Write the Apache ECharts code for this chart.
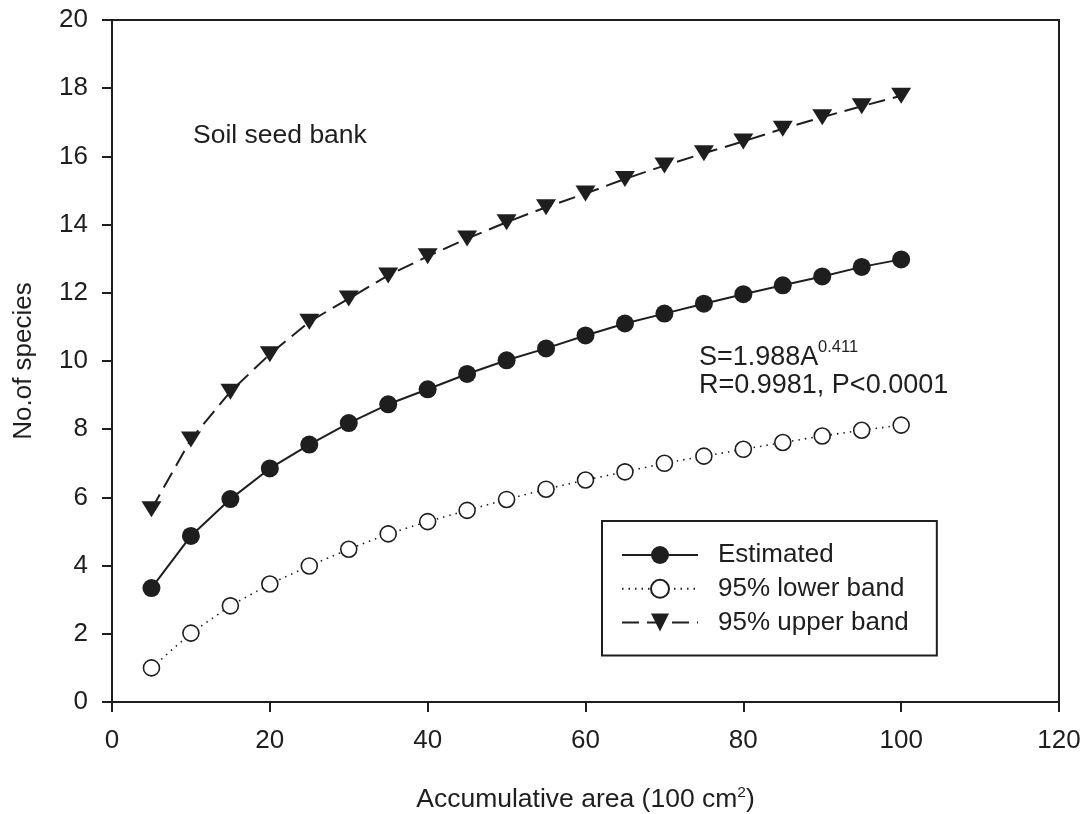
<!DOCTYPE html>
<html>
<head>
<meta charset="utf-8">
<script src="https://cdn.jsdelivr.net/npm/echarts@6/dist/echarts.min.js"></script>
<style>
html,body{margin:0;padding:0;background:#fff;}
#chart{width:1085px;height:814px;}
</style>
</head>
<body>
<div id="chart"></div>
<script>
const areas = [5,10,15,20,25,30,35,40,45,50,55,60,65,70,75,80,85,90,95,100];
const estimated = [3.34,4.87,5.95,6.85,7.55,8.18,8.73,9.17,9.62,10.02,10.37,10.75,11.10,11.39,11.68,11.96,12.22,12.48,12.76,12.98];
const lowerBand = [1.00,2.02,2.82,3.46,3.99,4.48,4.93,5.29,5.62,5.94,6.24,6.51,6.75,7.00,7.21,7.41,7.61,7.80,7.97,8.12];
const upperBand = [5.65,7.70,9.10,10.20,11.15,11.83,12.51,13.07,13.59,14.07,14.51,14.91,15.34,15.73,16.09,16.44,16.81,17.15,17.47,17.78];
const seriesNames = ['Estimated','95% lower band','95% upper band'];
const xTicks = {min:0,max:120,interval:20};
const yTicks = {min:0,max:20,interval:2};

const ink = '#1e1e1e';
const font = 'Liberation Sans, Arial, sans-serif';
const pair = (ys) => areas.map((x,i)=>[x,ys[i]]);

const chart = echarts.init(document.getElementById('chart'), null, {renderer:'canvas'});
chart.setOption({
  animation:false,
  backgroundColor:'#fff',
  textStyle:{fontFamily:font,color:ink},
  grid:{left:112,right:26,top:20,bottom:112,containLabel:false,outerBoundsMode:'none',show:true,borderColor:ink,borderWidth:2,backgroundColor:'transparent'},
  xAxis:{
    type:'value',min:xTicks.min,max:xTicks.max,interval:xTicks.interval,
    axisLine:{show:true,lineStyle:{color:ink,width:2}},
    axisTick:{show:true,inside:false,length:10,lineStyle:{color:ink,width:2}},
    axisLabel:{fontSize:26,color:ink,margin:26,fontFamily:font},
    splitLine:{show:false},
    name:'{a|Accumulative area (100 cm}{b|2}{a|)}',
    nameLocation:'middle',nameGap:83,
    nameTextStyle:{color:ink,fontFamily:font,rich:{
      a:{fontSize:26.5,color:ink,fontFamily:font,lineHeight:30},
      b:{fontSize:15.5,color:ink,fontFamily:font,verticalAlign:'top',lineHeight:30}
    }}
  },
  yAxis:{
    type:'value',min:yTicks.min,max:yTicks.max,interval:yTicks.interval,
    axisLine:{show:true,lineStyle:{color:ink,width:2}},
    axisTick:{show:true,inside:false,length:10,lineStyle:{color:ink,width:2}},
    axisLabel:{fontSize:26,color:ink,margin:24,fontFamily:font},
    splitLine:{show:false},
    name:'No.of species',nameLocation:'middle',nameGap:75,
    nameTextStyle:{fontSize:26,color:ink,fontFamily:font}
  },
  legend:{
    show:true,
    left:602,top:521,orient:'vertical',
    data:seriesNames,
    itemWidth:76,itemHeight:22.5,itemGap:7.8,
    padding:[21,28,20,19],
    borderColor:ink,borderWidth:2,backgroundColor:'#fff',
    textStyle:{fontSize:26,lineHeight:26,color:ink,fontFamily:font,padding:[0,0,0,15]}
  },
  series:[
    {
      name:seriesNames[0],type:'line',data:pair(estimated),
      symbol:'circle',symbolSize:18,
      itemStyle:{color:ink,borderColor:ink,borderWidth:0},
      lineStyle:{color:ink,width:2,type:'solid'},z:3
    },
    {
      name:seriesNames[1],type:'line',data:pair(lowerBand),
      symbol:'circle',symbolSize:16,
      itemStyle:{color:'#fff',borderColor:ink,borderWidth:1.6},
      lineStyle:{color:ink,width:1.6,type:[1.5,5]},z:3
    },
    {
      name:seriesNames[2],type:'line',data:pair(upperBand),
      symbol:'triangle',symbolSize:[20,16],symbolRotate:180,
      itemStyle:{color:ink,borderColor:ink,borderWidth:0},
      lineStyle:{color:ink,width:2,type:[17,8]},z:3
    }
  ],
  graphic:[
    {type:'text',x:193,y:136,style:{text:'Soil seed bank',font:'26.5px '+font,fill:ink,verticalAlign:'middle'}},
    {type:'text',x:699,y:357.5,style:{text:'S=1.988A',font:'27px '+font,fill:ink,verticalAlign:'middle'}},
    {type:'text',x:818,y:347,style:{text:'0.411',font:'16.5px '+font,fill:ink,verticalAlign:'middle'}},
    {type:'text',x:699,y:386,style:{text:'R=0.9981, P<0.0001',font:'27px '+font,fill:ink,verticalAlign:'middle'}}
  ]
});
</script>
</body>
</html>
